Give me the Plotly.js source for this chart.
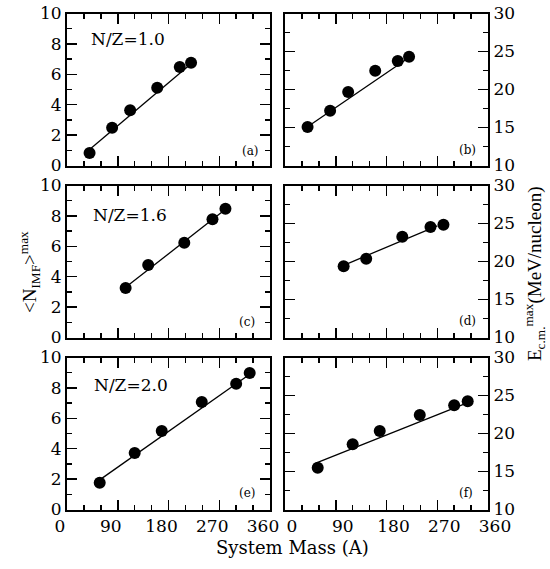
<!DOCTYPE html>
<html>
<head>
<meta charset="utf-8">
<script src="https://cdn.plot.ly/plotly-3.0.1.min.js"></script>
<style>html,body{margin:0;padding:0;background:#fff;}#chart{width:550px;height:569px;}</style>
</head>
<body>
<div id="chart"></div>
<script>
// ---- data ----
// N/Z = 1.0  (panels a, b)
var massNZ10 = [40, 80, 112, 160, 200, 220];
var nimfNZ10 = [0.82, 2.49, 3.63, 5.12, 6.48, 6.76];
var ecmNZ10  = [15.07, 17.2, 19.67, 22.47, 23.75, 24.32];
// N/Z = 1.6  (panels c, d)
var massNZ16 = [104, 144, 208, 258, 281];
var nimfNZ16 = [3.26, 4.77, 6.24, 7.78, 8.47];
var ecmNZ16  = [19.37, 20.37, 23.26, 24.54, 24.84];
// N/Z = 2.0  (panels e, f)
var massNZ20 = [58, 120, 168, 239, 300, 324];
var nimfNZ20 = [1.76, 3.72, 5.16, 7.07, 8.28, 8.98];
var ecmNZ20  = [15.5, 18.58, 20.33, 22.43, 23.71, 24.24];
// straight-line fits (end points)
var fitMassA = [40, 220],  fitNimfA = [1.05, 6.7];
var fitMassB = [40, 220],  fitEcmB  = [15.1, 24.2];
var fitMassC = [104, 280], fitNimfC = [3.3, 8.4];
var fitMassD = [104, 270], fitEcmD  = [19.5, 24.7];
var fitMassE = [58, 324],  fitNimfE = [1.95, 8.9];
var fitMassF = [58, 322],  fitEcmF  = [16.2, 24.0];

var xTicks = [0, 90, 180, 270, 360];
var ratioLabels = ['N/Z=1.0', 'N/Z=1.6', 'N/Z=2.0'];
var panelLabels = ['(a)', '(b)', '(c)', '(d)', '(e)', '(f)'];

// ---- traces ----
var traces = [];
function addPanel(xs, ys, fx, fy, ax) {
  traces.push({x: fx, y: fy, xaxis: 'x' + ax, yaxis: 'y' + ax, mode: 'lines',
    line: {color: '#000', width: 1.3}, hoverinfo: 'skip', showlegend: false});
  traces.push({x: xs, y: ys, xaxis: 'x' + ax, yaxis: 'y' + ax, mode: 'markers',
    marker: {color: '#000', size: 12, line: {width: 0}}, showlegend: false});
}
addPanel(massNZ10, nimfNZ10, fitMassA, fitNimfA, '');
addPanel(massNZ10, ecmNZ10, fitMassB, fitEcmB, '2');
addPanel(massNZ16, nimfNZ16, fitMassC, fitNimfC, '3');
addPanel(massNZ16, ecmNZ16, fitMassD, fitEcmD, '4');
addPanel(massNZ20, nimfNZ20, fitMassE, fitNimfE, '5');
addPanel(massNZ20, ecmNZ20, fitMassF, fitEcmF, '6');

// ---- layout ----
var W = 550, H = 569;
function px(v) { return v / W; }
function py(v) { return 1 - v / H; }
var colL = [px(67), px(270)], colR = [px(285), px(488)];
var rows = [[py(165.5), py(13.5)], [py(337.5), py(185.5)], [py(509.5), py(357.5)]];

var tickFont = {family: 'DejaVu Serif', size: 17, color: '#000'};
function xAxis(dom, anchor, labels, shift) {
  return {domain: dom, anchor: anchor, range: [0, 360], tickmode: 'array', tickvals: xTicks,
    ticks: 'inside', ticklen: 10, tickwidth: 1.5, tickcolor: '#000',
    minor: {dtick: 30, tick0: 0, ticks: 'inside', ticklen: 5, tickwidth: 1.5, tickcolor: '#000'},
    mirror: 'ticks', showline: true, linewidth: 2, linecolor: '#000',
    showgrid: false, zeroline: false, showticklabels: labels, ticklabelshift: shift || 0,
    tickfont: tickFont, fixedrange: true};
}
function yAxisL(dom, anchor) {
  return {domain: dom, anchor: anchor, range: [0, 10], dtick: 2, tick0: 0,
    ticks: 'inside', ticklen: 10, tickwidth: 1.5, tickcolor: '#000',
    minor: {dtick: 1, tick0: 0, ticks: 'inside', ticklen: 5, tickwidth: 1.5, tickcolor: '#000'},
    mirror: 'ticks', showline: true, linewidth: 2, linecolor: '#000',
    showgrid: false, zeroline: false, tickfont: tickFont, fixedrange: true};
}
function yAxisR(dom, anchor) {
  return {domain: dom, anchor: anchor, side: 'right', range: [10, 30], dtick: 5, tick0: 10,
    ticks: 'inside', ticklen: 10, tickwidth: 1.5, tickcolor: '#000',
    minor: {dtick: 2.5, tick0: 10, ticks: 'inside', ticklen: 5, tickwidth: 1.5, tickcolor: '#000'},
    mirror: 'ticks', showline: true, linewidth: 2, linecolor: '#000',
    showgrid: false, zeroline: false, tickfont: tickFont, fixedrange: true};
}

var annFont = {family: 'DejaVu Serif', size: 17, color: '#000'};
var smallFont = {family: 'DejaVu Serif', size: 12, color: '#000'};
var annotations = [
  {text: ratioLabels[0], x: px(88.7), y: py(39), xanchor: 'left', yanchor: 'middle'},
  {text: ratioLabels[1], x: px(91), y: py(215), xanchor: 'left', yanchor: 'middle'},
  {text: ratioLabels[2], x: px(92), y: py(384.5), xanchor: 'left', yanchor: 'middle'}
].map(function (a) { return Object.assign(a, {xref: 'paper', yref: 'paper', showarrow: false, font: annFont}); });

var plPos = [[250, 150.8], [467, 149.5], [247, 321.5], [467.7, 321], [247, 493], [466, 493]];
panelLabels.forEach(function (t, i) {
  annotations.push({text: t, x: px(plPos[i][0]), y: py(plPos[i][1]), xref: 'paper', yref: 'paper',
    xanchor: 'center', yanchor: 'middle', showarrow: false, font: smallFont});
});
// axis titles
annotations.push({text: 'System Mass (A)', x: px(292.5), y: py(547), xref: 'paper', yref: 'paper',
  xanchor: 'center', yanchor: 'middle', showarrow: false, font: {family: 'DejaVu Serif', size: 18, color: '#000'}});
annotations.push({text: '&lt;N<sub>IMF</sub>&gt;<sup>max</sup>', x: px(29), y: py(272), xref: 'paper', yref: 'paper',
  xanchor: 'center', yanchor: 'middle', textangle: -90, showarrow: false,
  font: {family: 'Liberation Serif', size: 19, color: '#000'}});
annotations.push({text: 'E<sub>c.m.</sub><sup>max</sup>(MeV/nucleon)', x: px(534), y: py(274), xref: 'paper', yref: 'paper',
  xanchor: 'center', yanchor: 'middle', textangle: -90, showarrow: false,
  font: {family: 'Liberation Serif', size: 19, color: '#000'}});

var layout = {
  width: W, height: H,
  margin: {l: 0, r: 0, t: 0, b: 0},
  paper_bgcolor: '#fff', plot_bgcolor: '#fff',
  showlegend: false,
  xaxis:  xAxis(colL, 'y', false),
  yaxis:  yAxisL(rows[0], 'x'),
  xaxis2: xAxis(colR, 'y2', false),
  yaxis2: yAxisR(rows[0], 'x2'),
  xaxis3: xAxis(colL, 'y3', false),
  yaxis3: yAxisL(rows[1], 'x3'),
  xaxis4: xAxis(colR, 'y4', false),
  yaxis4: yAxisR(rows[1], 'x4'),
  xaxis5: xAxis(colL, 'y5', true, -7),
  yaxis5: yAxisL(rows[2], 'x5'),
  xaxis6: xAxis(colR, 'y6', true, 7),
  yaxis6: yAxisR(rows[2], 'x6'),
  annotations: annotations
};

Plotly.newPlot('chart', traces, layout, {displayModeBar: false, staticPlot: true});
</script>
</body>
</html>
